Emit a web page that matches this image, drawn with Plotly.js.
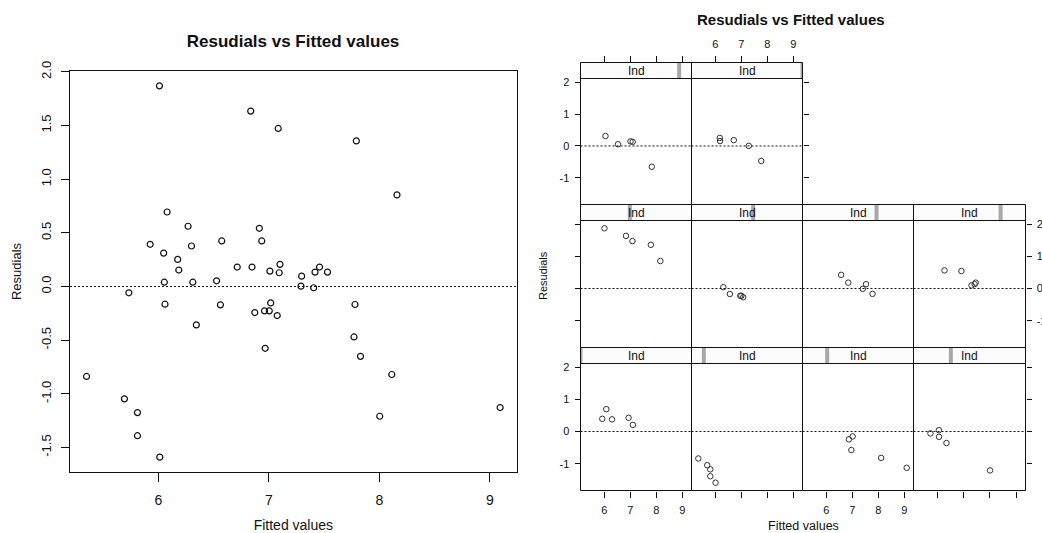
<!DOCTYPE html>
<html>
<head>
<meta charset="utf-8">
<script src="https://cdn.plot.ly/plotly-3.0.1.min.js"></script>
<style>
html,body{margin:0;padding:0;background:#fff;}
#chart{width:1042px;height:533px;}
</style>
</head>
<body>
<div id="chart"></div>
<script>
// ---------------- DATA ----------------
const chartTitle = 'Resudials vs Fitted values';
const xLabel = 'Fitted values';
const yLabel = 'Resudials';
const stripLabel = 'Ind';
const levels = [1, 2, 3, 4, 5, 6, 7, 8, 9, 10];

// Ind level of each observation
const ind = [
  1, 1, 1, 1, 1,
  2, 2, 2, 2, 2,
  3, 3, 3, 3, 3,
  4, 4, 4, 4, 4,
  5, 5, 5, 5, 5,
  6, 6, 6, 6, 6,
  7, 7, 7, 7, 7,
  8, 8, 8, 8, 8,
  9, 9, 9, 9, 9,
  10, 10, 10, 10, 10
];
const fitted = [
  5.925, 6.078, 6.299, 6.935, 7.100,
  5.349, 5.692, 5.810, 5.810, 6.012,
  6.872, 6.966, 7.016, 8.112, 9.093,
  5.732, 6.053, 6.059, 6.343, 8.003,
  6.009, 6.835, 7.084, 7.791, 8.159,
  6.311, 6.561, 6.960, 7.003, 7.075,
  6.573, 6.847, 7.405, 7.530, 7.779,
  6.268, 6.913, 7.296, 7.417, 7.458,
  6.047, 6.526, 7.009, 7.093, 7.829,
  6.174, 6.184, 6.713, 7.290, 7.770
];
const resid = [
  0.393, 0.694, 0.377, 0.424, 0.206,
  -0.838, -1.047, -1.175, -1.390, -1.590,
  -0.243, -0.576, -0.153, -0.820, -1.128,
  -0.059, 0.040, -0.165, -0.358, -1.209,
  1.869, 1.634, 1.472, 1.356, 0.853,
  0.040, -0.171, -0.227, -0.227, -0.271,
  0.424, 0.181, -0.012, 0.134, -0.168,
  0.561, 0.542, 0.096, 0.134, 0.181,
  0.311, 0.053, 0.143, 0.128, -0.651,
  0.252, 0.153, 0.181, 0.003, -0.470
];
const xTicks = [6, 7, 8, 9];
const yTicksLeft = [-1.5, -1.0, -0.5, 0.0, 0.5, 1.0, 1.5, 2.0];
const yTicksPanel = [-1, 0, 1, 2];

// ---------------- LAYOUT HELPERS ----------------
const W = 1042, H = 533;
const FONT = 'Liberation Sans, Arial, Helvetica, sans-serif';
const INK = '#111111';
const DOTS = '2px,2px';
const fx = p => p / W;
const fy = p => 1 - p / H;

function padRange(vals, f) {
  const mn = Math.min(...vals), mx = Math.max(...vals), s = mx - mn;
  return [mn - f * s, mx + f * s];
}

// left (base graphics) plot box, px
const LB = {left: 70, right: 516.7, top: 71, bottom: 472};
const xrL = padRange(fitted, 0.04);
const yrL = padRange(resid, 0.04);

// trellis geometry, px (half-pixel edges for crisp 1px borders)
const colEdges = [580.5, 691.5, 802.5, 913.5, 1025.5];
const rowBox = {
  T: {top: 62.5, strip: 78.5, bottom: 204.5},
  M: {top: 204.5, strip: 220.5, bottom: 347.5},
  B: {top: 347.5, strip: 363.5, bottom: 490.5}
};
const xrP = padRange(fitted, 0.07);
const yrP = padRange(resid, 0.07);

function panelPos(lvl) {
  const i = lvl - 1;
  if (i < 4) return {row: 'B', col: i, last: i === 3};
  if (i < 8) return {row: 'M', col: i - 4, last: i - 4 === 3};
  return {row: 'T', col: i - 8, last: i - 8 === 1};
}

const traces = [];
const layout = {
  width: W, height: H,
  margin: {l: 0, r: 0, t: 0, b: 0},
  paper_bgcolor: '#ffffff',
  plot_bgcolor: 'rgba(0,0,0,0)',
  showlegend: false,
  font: {family: FONT, color: INK},
  title: {
    text: '<b>' + chartTitle + '</b>',
    font: {family: FONT, size: 17, color: INK},
    xref: 'paper', yref: 'paper',
    x: fx(293), xanchor: 'center',
    y: fy(41), yanchor: 'middle'
  },
  shapes: [],
  annotations: []
};

// ----- left plot -----
traces.push({
  type: 'scatter', mode: 'markers', x: fitted, y: resid,
  xaxis: 'x', yaxis: 'y',
  marker: {symbol: 'circle-open', size: 6, color: INK, line: {width: 1.2, color: INK}},
  hoverinfo: 'x+y'
});
layout.xaxis = {
  domain: [fx(LB.left), fx(LB.right)], range: xrL, anchor: 'y',
  tickvals: xTicks, ticktext: xTicks.map(String),
  ticks: 'outside', ticklen: 9, tickwidth: 1, tickcolor: INK,
  showline: true, mirror: true, linecolor: INK, linewidth: 1,
  showgrid: false, zeroline: false,
  tickfont: {size: 14, family: FONT, color: INK},
  ticklabelstandoff: 6,
  title: {text: xLabel, font: {size: 14, family: FONT, color: INK}, standoff: 16}
};
layout.yaxis = {
  domain: [fy(LB.bottom), fy(LB.top)], range: yrL, anchor: 'x',
  tickvals: yTicksLeft, ticktext: yTicksLeft.map(v => v.toFixed(1)),
  tickangle: -90,
  ticks: 'outside', ticklen: 8, tickwidth: 1, tickcolor: INK,
  showline: true, mirror: true, linecolor: INK, linewidth: 1,
  showgrid: false, zeroline: false,
  tickfont: {size: 13, family: FONT, color: INK},
  ticklabelstandoff: 5,
  title: {text: yLabel, font: {size: 13, family: FONT, color: INK}, standoff: 14}
};
layout.shapes.push({
  type: 'line', xref: 'x domain', yref: 'y', x0: 0, x1: 1, y0: 0, y1: 0,
  line: {color: INK, width: 1, dash: DOTS}, layer: 'below'
});

// ----- trellis panels -----
const borderShapes = [];
levels.forEach((lvl, k) => {
  const n = k + 2;
  const p = panelPos(lvl);
  const rb = rowBox[p.row];
  const x0 = colEdges[p.col], x1 = colEdges[p.col + 1];
  const stripPx = rb.strip - rb.top, panelPx = rb.bottom - rb.strip;
  const yTop = yrP[1] + (yrP[1] - yrP[0]) * stripPx / panelPx;
  const xs = [], ys = [];
  ind.forEach((g, i) => { if (g === lvl) { xs.push(fitted[i]); ys.push(resid[i]); } });
  traces.push({
    type: 'scatter', mode: 'markers', x: xs, y: ys,
    xaxis: 'x' + n, yaxis: 'y' + n,
    marker: {symbol: 'circle-open', size: 5.5, color: '#333', line: {width: 1, color: '#333'}},
    hoverinfo: 'x+y'
  });
  const xLab = (p.row === 'B' && (p.col === 0 || p.col === 2)) || (p.row === 'T' && p.col === 1);
  const xTk = (p.row === 'B' || p.row === 'T');
  layout['xaxis' + n] = {
    domain: [fx(x0), fx(x1)], range: xrP, anchor: 'y' + n,
    side: p.row === 'T' ? 'top' : 'bottom',
    tickvals: xTicks, ticktext: xTicks.map(String),
    ticks: xTk ? 'outside' : '', ticklen: 6, tickwidth: 1, tickcolor: INK,
    showticklabels: xLab,
    tickfont: {size: 11, family: FONT, color: INK},
    ticklabelstandoff: 3,
    showline: false, showgrid: false, zeroline: false
  };
  const yTk = p.col === 0 || p.last;
  const yLab = (p.col === 0 && p.row !== 'M') || (p.last && p.row === 'M');
  layout['yaxis' + n] = {
    domain: [fy(rb.bottom), fy(rb.top)], range: [yrP[0], yTop], anchor: 'x' + n,
    side: (p.last && p.col !== 0) ? 'right' : 'left',
    tickvals: yTicksPanel, ticktext: yTicksPanel.map(String),
    ticks: yTk ? 'outside' : '', ticklen: 5, tickwidth: 1, tickcolor: INK,
    showticklabels: yLab,
    tickfont: {size: 11, family: FONT, color: INK},
    ticklabelstandoff: 3,
    showline: false, showgrid: false, zeroline: false
  };
  // zero reference line
  layout.shapes.push({
    type: 'line', xref: 'x' + n + ' domain', yref: 'y' + n, x0: 0, x1: 1, y0: 0, y1: 0,
    line: {color: INK, width: 1, dash: DOTS}
  });
  // strip background
  layout.shapes.push({
    type: 'rect', xref: 'paper', yref: 'paper',
    x0: fx(x0), x1: fx(x1), y0: fy(rb.strip), y1: fy(rb.top),
    fillcolor: '#fcfcfc', line: {width: 0}
  });
  // level indicator inside strip
  const frac = (lvl - levels[0]) / (levels[levels.length - 1] - levels[0]);
  const cx = x0 + frac * (x1 - x0);
  layout.shapes.push({
    type: 'rect', xref: 'paper', yref: 'paper',
    x0: fx(Math.max(x0, cx - 2)), x1: fx(Math.min(x1, cx + 2)),
    y0: fy(rb.strip), y1: fy(rb.top),
    fillcolor: '#a8a8a8', line: {width: 0}
  });
  // strip bottom line and panel border
  borderShapes.push({
    type: 'line', xref: 'paper', yref: 'paper',
    x0: fx(x0), x1: fx(x1), y0: fy(rb.strip), y1: fy(rb.strip),
    line: {color: INK, width: 1}
  });
  borderShapes.push({
    type: 'rect', xref: 'paper', yref: 'paper',
    x0: fx(x0), x1: fx(x1), y0: fy(rb.bottom), y1: fy(rb.top),
    fillcolor: 'rgba(0,0,0,0)', line: {color: INK, width: 1}
  });
  layout.annotations.push({
    text: stripLabel, xref: 'paper', yref: 'paper',
    x: fx((x0 + x1) / 2), y: fy((rb.top + rb.strip) / 2),
    xanchor: 'center', yanchor: 'middle', showarrow: false,
    font: {size: 12, family: FONT, color: INK}
  });
});
layout.shapes = layout.shapes.concat(borderShapes);

// shared trellis labels
layout.annotations.push({
  text: '<b>' + chartTitle + '</b>', xref: 'paper', yref: 'paper',
  x: fx(791), y: fy(20), xanchor: 'center', yanchor: 'middle', showarrow: false,
  font: {size: 15, family: FONT, color: INK}
});
layout.annotations.push({
  text: xLabel, xref: 'paper', yref: 'paper',
  x: fx(803), y: fy(526), xanchor: 'center', yanchor: 'middle', showarrow: false,
  font: {size: 12.5, family: FONT, color: INK}
});
layout.annotations.push({
  text: yLabel, xref: 'paper', yref: 'paper',
  x: fx(543), y: fy(276), xanchor: 'center', yanchor: 'middle', showarrow: false,
  textangle: -90,
  font: {size: 11, family: FONT, color: INK}
});

Plotly.newPlot('chart', traces, layout, {staticPlot: true, displayModeBar: false});
</script>
</body>
</html>
